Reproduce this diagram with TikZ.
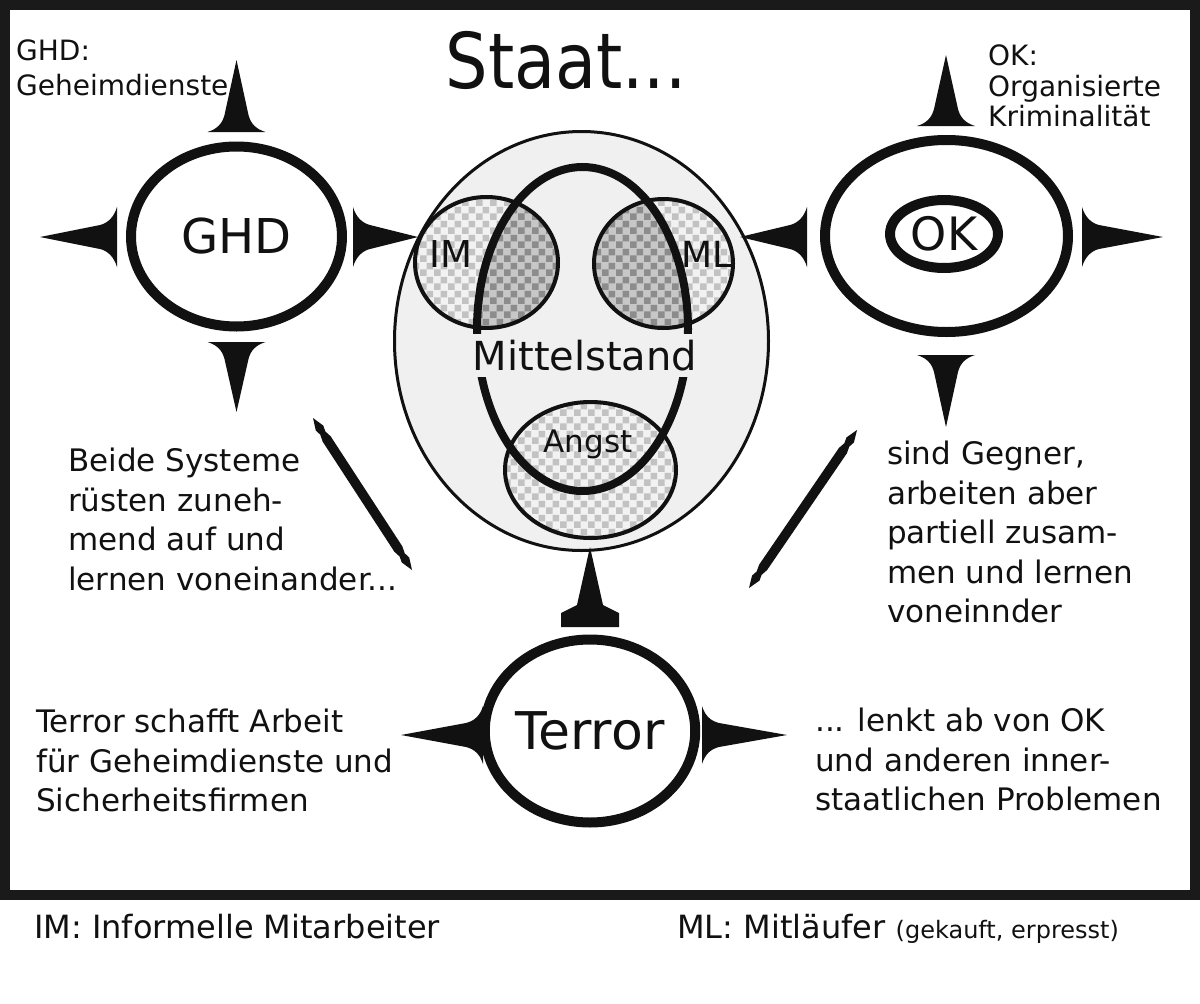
\documentclass[tikz,border=0pt]{standalone}
\usepackage{fontspec}
\setmainfont{DejaVu Sans}
\usepackage{graphicx}
\usetikzlibrary{shapes.geometric,patterns.meta,calc}
\definecolor{framecol}{HTML}{1A1A1A}
\definecolor{ink}{HTML}{111111}
\colorlet{bgc}{black!6}
\newcommand\fs[2]{\fontsize{#1pt}{#2pt}\selectfont}
\tikzdeclarepattern{name=chk, type=uncolored,
  bounding box={(0pt,0pt) and (14pt,14pt)}, tile size={(14pt,14pt)},
  code={\fill (0pt,0pt) rectangle (7pt,7pt); \fill (7pt,7pt) rectangle (14pt,14pt);}}
% spike: base-centre coordinate, direction angle, length, half width
\newcommand\spikeshape[4]{\fill[ink, shift={(#1)}, rotate=#2]
  (0,-#4) -- (0,#4) .. controls (3,#4-10) and (9,14) .. (17,12) -- (#3,0)
  -- (17,-12) .. controls (9,-14) and (3,-#4+10) .. (0,-#4) -- cycle;}
% pointed bar between two named coordinates
\newcommand\barshape[2]{\fill[ink]
  (#1)
  -- ($(#1)!12pt!(#2)!4.5pt!90:(#2)$) -- ($(#1)!18pt!(#2)!3pt!90:(#2)$) -- ($(#1)!25pt!(#2)!4.8pt!90:(#2)$)
  -- ($(#2)!25pt!(#1)!4.8pt!-90:(#1)$) -- ($(#2)!18pt!(#1)!3pt!-90:(#1)$) -- ($(#2)!12pt!(#1)!4.5pt!-90:(#1)$)
  -- (#2)
  -- ($(#2)!12pt!(#1)!4.5pt!90:(#1)$) -- ($(#2)!18pt!(#1)!3pt!90:(#1)$) -- ($(#2)!25pt!(#1)!4.8pt!90:(#1)$)
  -- ($(#1)!25pt!(#2)!4.8pt!-90:(#2)$) -- ($(#1)!18pt!(#2)!3pt!-90:(#2)$) -- ($(#1)!12pt!(#2)!4.5pt!-90:(#2)$)
  -- cycle;}
\begin{document}
\begin{tikzpicture}[x=1pt,y=-1pt,
  ring/.style={ellipse, draw=ink, inner sep=0pt, outer sep=0pt},
  chkfill/.style={preaction={fill=black!5}, pattern=chk, pattern color=black!24},
  darkchk/.style={preaction={fill=black!22}, pattern=chk, pattern color=black!45},
  txt/.style={text=ink, align=left, inner sep=0pt, font=\fs{31}{39.5}},
  lbl/.style={text=ink, inner sep=0pt}]
% background and frame
\fill[white] (0,0) rectangle (1200,1004);
\fill[framecol] (0,0) rectangle (1200,900);
\fill[white] (10,10) rectangle (1190,890);
\useasboundingbox (0,0) rectangle (1200,1004);

% title
\node[lbl, anchor=base] (title) at (566,88) {\scalebox{0.87}[1]{\fs{77}{77}Staat...}};

% Staat big circle
\coordinate (ovc) at (582.5,329);
\node[ring, fill=bgc, line width=3pt, minimum width=374pt, minimum height=419pt] (bigc) at (581.5,341) {};
\node[ring, chkfill, line width=4pt, minimum width=143pt, minimum height=131pt,
  path picture={\fill[darkchk] (ovc) ellipse [x radius=105.5pt, y radius=162pt];}] (im) at (486.5,262.5) {};
\node[ring, chkfill, line width=4pt, minimum width=139pt, minimum height=129pt,
  path picture={\fill[darkchk] (ovc) ellipse [x radius=105.5pt, y radius=162pt];}] (ml) at (663.5,263.5) {};
\node[ring, chkfill, line width=4pt, minimum width=171pt, minimum height=136pt] (angst) at (590.5,470) {};
\node[ring, line width=8pt, minimum width=211pt, minimum height=324pt] (ov) at (ovc) {};
\node[lbl, fill=bgc, inner xsep=3pt, inner ysep=6pt, anchor=base, font=\fs{40}{40}] (mittel) at (585,370) {Mittelstand};
\node[lbl, anchor=base, font=\fs{37}{37}] (imt) at (451,267) {IM};
\node[lbl, anchor=base, font=\fs{36}{36}] (mlt) at (707,267) {ML};
\node[lbl, anchor=base, font=\fs{31}{31}] (angstt) at (588,452) {Angst};

% GHD
\node[ring, line width=10pt, minimum width=211pt, minimum height=180pt, font=\fs{48}{48}, text=ink] (ghd) at (236.5,236.5) {GHD};
\coordinate (g-n) at (236.5,132);
\coordinate (g-s) at (236.5,342);
\coordinate (g-w) at (117,237);
\coordinate (g-e) at (353,237);
\spikeshape{g-n}{90}{72}{29}
\spikeshape{g-s}{-90}{70}{29}
\spikeshape{g-w}{180}{77}{30}
\spikeshape{g-e}{0}{65}{30}

% OK
\node[ring, line width=10pt, minimum width=243pt, minimum height=192pt] (okout) at (946.5,236) {};
\node[ring, line width=10pt, minimum width=108pt, minimum height=68pt, font=\fs{46}{46}, text=ink] (okin) at (944,234) {OK};
\coordinate (o-n) at (946,126);
\coordinate (o-s) at (946,355);
\coordinate (o-w) at (807,237);
\coordinate (o-e) at (1082,237);
\spikeshape{o-n}{90}{71}{29}
\spikeshape{o-s}{-90}{72}{29}
\spikeshape{o-w}{180}{67}{30}
\spikeshape{o-e}{0}{81}{30}

% Terror
\node[ring, line width=10pt, minimum width=186pt, minimum height=183pt, font=\fs{52}{52}, text=ink] (terror) at (590,731) {Terror};
\coordinate (t-n) at (590,627);
\coordinate (t-w) at (483,735);
\coordinate (t-e) at (702,735);
\fill[ink, shift={(t-n)}, rotate=90] (0,-29) -- (0,29) -- (14,29) -- (22,13) -- (80,0) -- (22,-13) -- (14,-29) -- cycle;
\spikeshape{t-w}{180}{82}{29}
\spikeshape{t-e}{0}{85}{29}

% diagonal bars
\coordinate (bl1) at (313,418);
\coordinate (bl2) at (412,570);
\coordinate (br1) at (857,430);
\coordinate (br2) at (749,588);
\barshape{bl1}{bl2}
\barshape{br1}{br2}

% labels
\node[lbl, anchor=north west, align=left, font=\fs{28}{35}] (ghdl) at (16,40) {GHD:\\Geheimdienste};
\node[lbl, anchor=north west, align=left, font=\fs{28}{30.5}] (okl) at (988,45) {OK:\\Organisierte\\Kriminalität};

% text blocks
\node[txt, anchor=north west] (tleft) at (68,448) {Beide Systeme\\rüsten zuneh-\\mend auf und\\lernen voneinander...};
\node[txt, anchor=north west] (tright) at (887,441) {sind Gegner,\\arbeiten aber\\partiell zusam-\\men und lernen\\voneinnder};
\node[txt, anchor=north west] (tbl) at (36,709) {Terror schafft Arbeit\\für Geheimdienste und\\Sicherheitsfirmen};
\node[txt, anchor=north west] (tbr) at (815,708) {... lenkt ab von OK\\und anderen inner-\\staatlichen Problemen};

% footer
\node[lbl, anchor=base west, font=\fs{32}{32}] (fim) at (34,938) {IM: Informelle Mitarbeiter};
\node[lbl, anchor=base west, font=\fs{32}{32}] (fml) at (677,938) {ML: Mitläufer {\fs{24}{24}(gekauft, erpresst)}};
\end{tikzpicture}
\end{document}
